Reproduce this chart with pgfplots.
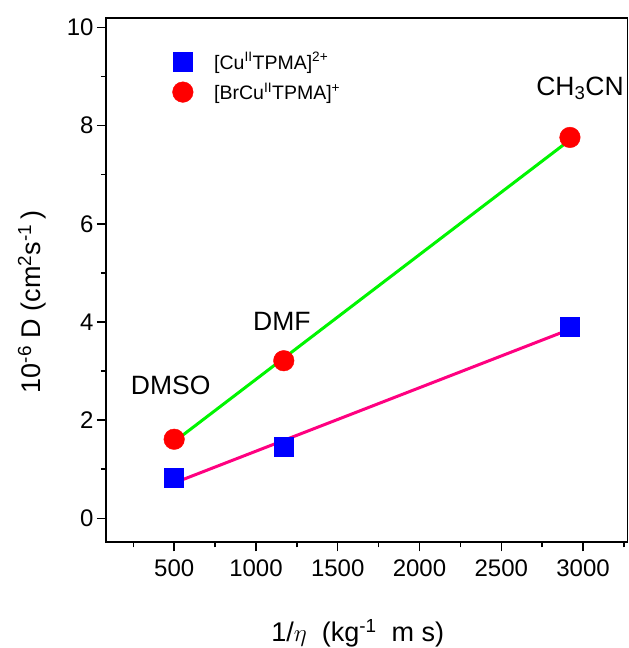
\documentclass[border=0pt]{standalone}
\usepackage{fontspec}
\setmainfont{Liberation Sans}
\usepackage{pgfplots}
\pgfplotsset{compat=1.18}
\definecolor{fitgreen}{RGB}{0,245,0}
\definecolor{fitpink}{RGB}{255,0,128}
\newcommand{\sps}[1]{\textsuperscript{#1}}
\begin{document}
\begin{tikzpicture}
\begin{axis}[
  name=main,
  scale only axis,
  width=521.5pt, height=524.6pt,
  xmin=83, xmax=3272, ymin=-0.49, ymax=10.2,
  xtick={500,1000,...,3000},
  minor xtick={250,750,...,3250},
  ytick={0,2,...,10},
  minor ytick={1,3,...,9},
  tick pos=left,
  tick align=outside,
  major tick length=9pt, minor tick length=5pt,
  every tick/.style={black, line width=1.5pt},
  axis line style={line width=1.8pt},
  /pgf/number format/assume math mode=true,
  /pgf/number format/1000 sep={},
  ticklabel style={font=\fontsize{24}{24}\selectfont},
  xticklabel style={yshift=-5pt},
  xlabel={1/$\eta$\ \ (kg\sps{-1}\ \ m s)},
  ylabel={10\sps{-6} D (cm\sps{2}s\sps{-1}\,)},
  xlabel style={font=\fontsize{27}{27}\selectfont, yshift=-36pt, xshift=-9pt},
  ylabel style={font=\fontsize{27}{27}\selectfont, at={(axis description cs:-0.142,0.458)}, anchor=center},
  legend style={draw=none, fill=none, at={(0.1215,0.942)}, anchor=north west,
    font=\fontsize{19.5}{19.5}\selectfont, row sep=8pt, legend cell align=left,
    /tikz/every odd column/.append style={column sep=19pt}},
  clip=false,
]
\addplot[only marks, mark=square*, mark size=9.5pt, blue, mark options={draw=none, fill=blue}]
  coordinates {(500,0.82) (1170,1.45) (2920,3.91)};
\addlegendentry{[Cu\sps{II}TPMA]\sps{2+}}
\addplot[only marks, mark=*, mark size=10.3pt, red, mark options={draw=none, fill=red}]
  coordinates {(500,1.61) (1170,3.21) (2920,7.76)};
\addlegendentry{[BrCu\sps{II}TPMA]\sps{+}}
\addplot[fitgreen, line width=3pt, forget plot] coordinates {(500,1.56) (2920,7.71)};
\addplot[fitpink, line width=3pt, forget plot] coordinates {(500,0.72) (2920,3.85)};
\node[font=\fontsize{26.5}{26.5}\selectfont, anchor=base west, inner sep=0pt] at (axis cs:234,2.52) {DMSO};
\node[font=\fontsize{26.5}{26.5}\selectfont, anchor=base west, inner sep=0pt] at (axis cs:982,3.83) {DMF};
\node[font=\fontsize{26.5}{26.5}\selectfont, anchor=base west, inner sep=0pt] at (axis cs:2713,8.62) {CH\textsubscript{3}CN};
\end{axis}
\pgfresetboundingbox
\path[use as bounding box] ([shift={(-106pt,-105.7pt)}]main.south west) rectangle ([shift={(0.5pt,17.7pt)}]main.north east);
\end{tikzpicture}
\end{document}
